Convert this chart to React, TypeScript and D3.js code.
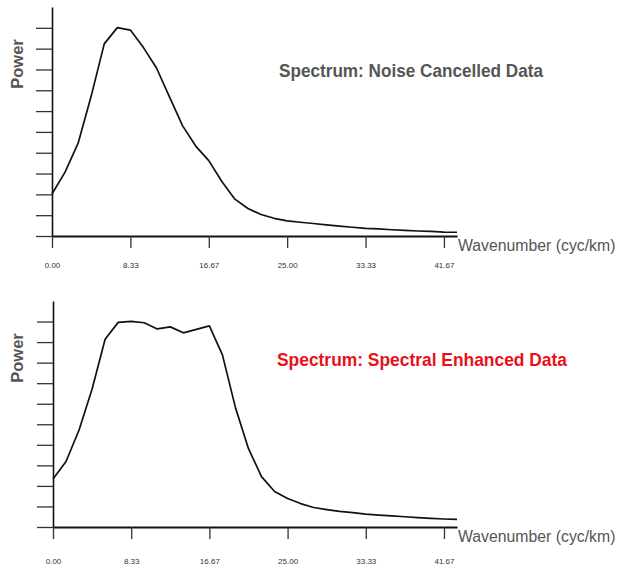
import React, { useEffect, useRef } from 'react';
import * as d3 from 'd3';

// wavenumber samples: 32 points, step 8.333/6 cyc/km
const STEP = 8.3333 / 6;
const wavenumbers = d3.range(32).map(i => i * STEP);

const noiseCancelled = [
  0.202, 0.307, 0.446, 0.672, 0.923, 1.001, 0.989, 0.905, 0.807, 0.667,
  0.529, 0.432, 0.362, 0.262, 0.177, 0.132, 0.103, 0.085, 0.073, 0.066,
  0.06, 0.053, 0.047, 0.042, 0.037, 0.034, 0.03, 0.027, 0.024, 0.022,
  0.019, 0.018,
];

const spectralEnhanced = [
  0.234, 0.319, 0.472, 0.672, 0.914, 0.996, 1.001, 0.994, 0.964, 0.974,
  0.945, 0.962, 0.979, 0.838, 0.581, 0.381, 0.245, 0.173, 0.139, 0.114,
  0.095, 0.085, 0.076, 0.07, 0.063, 0.058, 0.054, 0.05, 0.046, 0.042,
  0.039, 0.037,
];

const xTicks = [0, 8.3333, 16.6667, 25, 33.3333, 41.6667];
const yTicks = d3.range(0, 1.05, 0.1);

const panels = [
  { title: 'Spectrum: Noise Cancelled Data', titleColor: '#555555', values: noiseCancelled },
  { title: 'Spectrum: Spectral Enhanced Data', titleColor: '#e8101a', values: spectralEnhanced },
];

// panel frames (pixel layout)
const frames = [
  { left: 52, right: 457, top: 7, bottom: 236, titleX: 279, titleY: 77, titleW: 264, labelDy: 32 },
  { left: 53, right: 457, top: 301, bottom: 527, titleX: 277, titleY: 366, titleW: 290, labelDy: 37 },
];

export default function App() {
  const svgRef = useRef<SVGSVGElement>(null);

  useEffect(() => {
    const svg = d3.select(svgRef.current);
    svg.selectAll('*').remove();

    panels.forEach((p, i) => {
      const f = frames[i];
      const g = svg.append('g');

      const x = d3.scaleLinear().domain([0, wavenumbers[wavenumbers.length - 1]]).range([f.left, f.right]);
      const y = d3.scaleLinear().domain([0, 1.1]).range([f.bottom, f.top]);

      // y axis
      const ya = g.append('g')
        .attr('transform', `translate(${f.left},0)`)
        .call(d3.axisLeft(y).tickValues(yTicks).tickFormat(() => '').tickSize(16).tickSizeOuter(0));
      ya.select('.domain').attr('stroke', '#111').attr('stroke-width', 1.6);
      ya.selectAll('.tick line').attr('stroke', '#333').attr('stroke-width', 1.3);

      // x axis
      const xa = g.append('g')
        .attr('transform', `translate(0,${f.bottom})`)
        .call(d3.axisBottom(x).tickValues(xTicks).tickFormat(d3.format('.2f')).tickSize(12).tickSizeOuter(0));
      xa.select('.domain').attr('stroke', '#111').attr('stroke-width', 1.8);
      xa.selectAll('.tick line').attr('stroke', '#333').attr('stroke-width', 1.3);
      xa.selectAll('.tick text')
        .attr('y', f.labelDy)
        .attr('dy', 0)
        .style('font-family', '"Liberation Sans", Arial, sans-serif')
        .style('font-size', '8px')
        .style('fill', '#333');

      // spectrum line
      const line = d3.line<number>()
        .x((_, j) => x(wavenumbers[j]))
        .y(d => y(d));
      g.append('path')
        .datum(p.values)
        .attr('d', line)
        .style('fill', 'none')
        .style('stroke', '#111')
        .style('stroke-width', 1.7)
        .style('stroke-linejoin', 'round');

      // axis titles
      g.append('text')
        .attr('x', f.right + 1)
        .attr('y', f.bottom + 15)
        .style('font-family', '"Liberation Sans", Arial, sans-serif')
        .style('font-size', '15.8px')
        .style('fill', '#555')
        .text('Wavenumber (cyc/km)');

      g.append('text')
        .attr('transform', `translate(23,${f.top + 57}) rotate(-90)`)
        .attr('text-anchor', 'middle')
        .style('font-family', '"Liberation Sans", Arial, sans-serif')
        .style('font-size', '16.5px')
        .style('font-weight', 'bold')
        .style('fill', '#555')
        .text('Power');

      // panel title
      g.append('text')
        .attr('x', f.titleX)
        .attr('y', f.titleY)
        .attr('textLength', f.titleW)
        .attr('lengthAdjust', 'spacingAndGlyphs')
        .style('font-family', '"Liberation Sans", Arial, sans-serif')
        .style('font-size', '18.5px')
        .style('font-weight', 'bold')
        .style('fill', p.titleColor)
        .text(p.title);
    });
  }, []);

  return (
    <svg
      ref={svgRef}
      width={618}
      height={566}
      style={{ position: 'absolute', left: 0, top: 0, background: '#fff' }}
    />
  );
}
